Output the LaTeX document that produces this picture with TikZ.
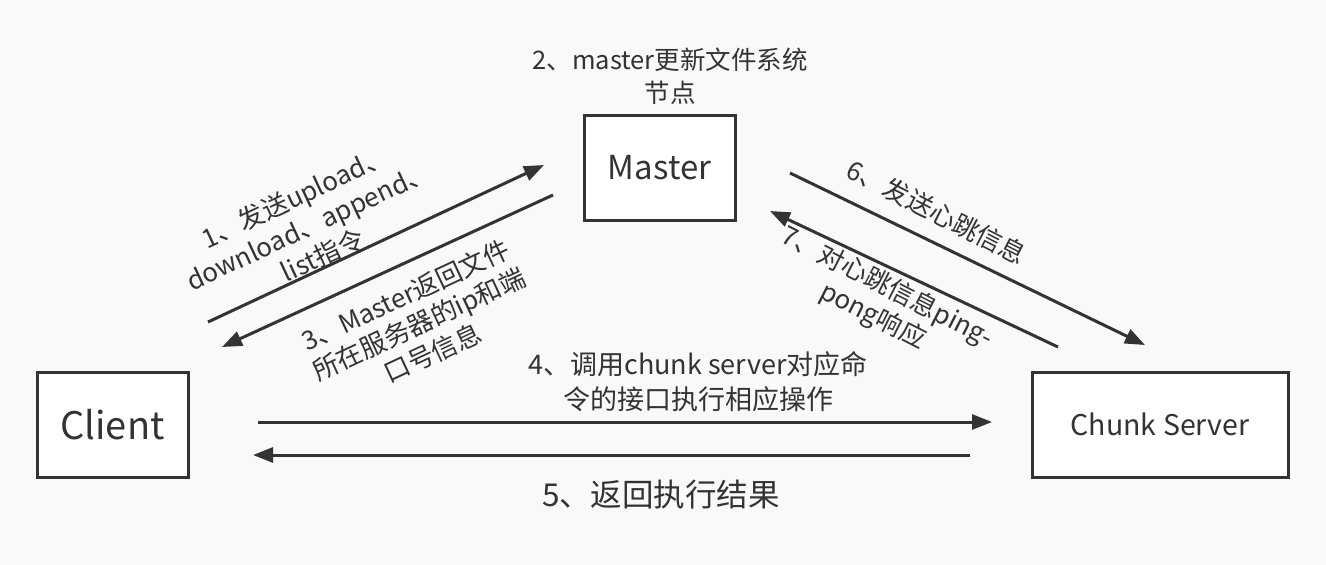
\documentclass[tikz,border=0pt]{standalone}
\usepackage{fontspec}
\setmainfont{Noto Sans CJK SC}
\usetikzlibrary{arrows.meta}
\definecolor{bg}{HTML}{F9F9F9}
\definecolor{ink}{HTML}{333333}
\tikzset{
  box/.style={draw=ink, line width=3pt, fill=white, text=ink, inner sep=0pt},
  conn/.style={draw=ink, line width=3pt, -{Triangle[length=20pt,width=15pt]}},
  lbl/.style={text=ink, align=center, inner sep=0pt, font=\fontsize{26}{32}\selectfont},
}
\begin{document}
\begin{tikzpicture}[x=1pt,y=-1pt]
\fill[bg] (0,0) rectangle (1326,565);
\useasboundingbox (0,0) rectangle (1326,565);
% boxes
\node[box, minimum width=151pt, minimum height=105pt, font=\fontsize{38}{42}\selectfont] (client) at (112.5,424.5) {Client};
\node[box, minimum width=151pt, minimum height=105pt, font=\fontsize{33}{38}\selectfont] (master) at (659.5,167.5) {Master};
\node[box, minimum width=256pt, minimum height=105pt, font=\fontsize{28.5}{34}\selectfont] (chunk) at (1160,424.5) {Chunk Server};
% connector end points
\coordinate (a1s) at (208,322); \coordinate (a1e) at (544,165);
\coordinate (a3s) at (553,195); \coordinate (a3e) at (222,347);
\coordinate (a6s) at (790,173); \coordinate (a6e) at (1145,345);
\coordinate (a7s) at (1058,347); \coordinate (a7e) at (770,211);
\coordinate (a4s) at (258,422); \coordinate (a4e) at (992,422);
\coordinate (a5s) at (970,455); \coordinate (a5e) at (253,455);
\draw[conn] (a1s) -- (a1e);
\draw[conn] (a3s) -- (a3e);
\draw[conn] (a6s) -- (a6e);
\draw[conn] (a7s) -- (a7e);
\draw[conn] (a4s) -- (a4e);
\draw[conn] (a5s) -- (a5e);
% labels
\node[lbl, font=\fontsize{25.5}{33}\selectfont] (l2) at (670,76) {2、master更新文件系统\\节点};
\node[lbl, rotate=25] (l1) at (309,226) {1、发送upload、\\download、append、\\list指令};
\node[lbl, rotate=25] (l3) at (419,324) {3、Master返回文件\\所在服务器的ip和端\\口号信息};
\node[lbl, rotate=-27] (l6) at (937,212) {6、发送心跳信息};
\node[lbl, rotate=-27] (l7) at (880,302) {7、对心跳信息ping-\\pong响应};
\node[lbl, font=\fontsize{27}{35}\selectfont] (l4) at (698,382) {4、调用chunk server对应命\\令的接口执行相应操作};
\node[lbl, font=\fontsize{31.5}{36}\selectfont] (l5) at (661,495) {5、返回执行结果};
\end{tikzpicture}
\end{document}
